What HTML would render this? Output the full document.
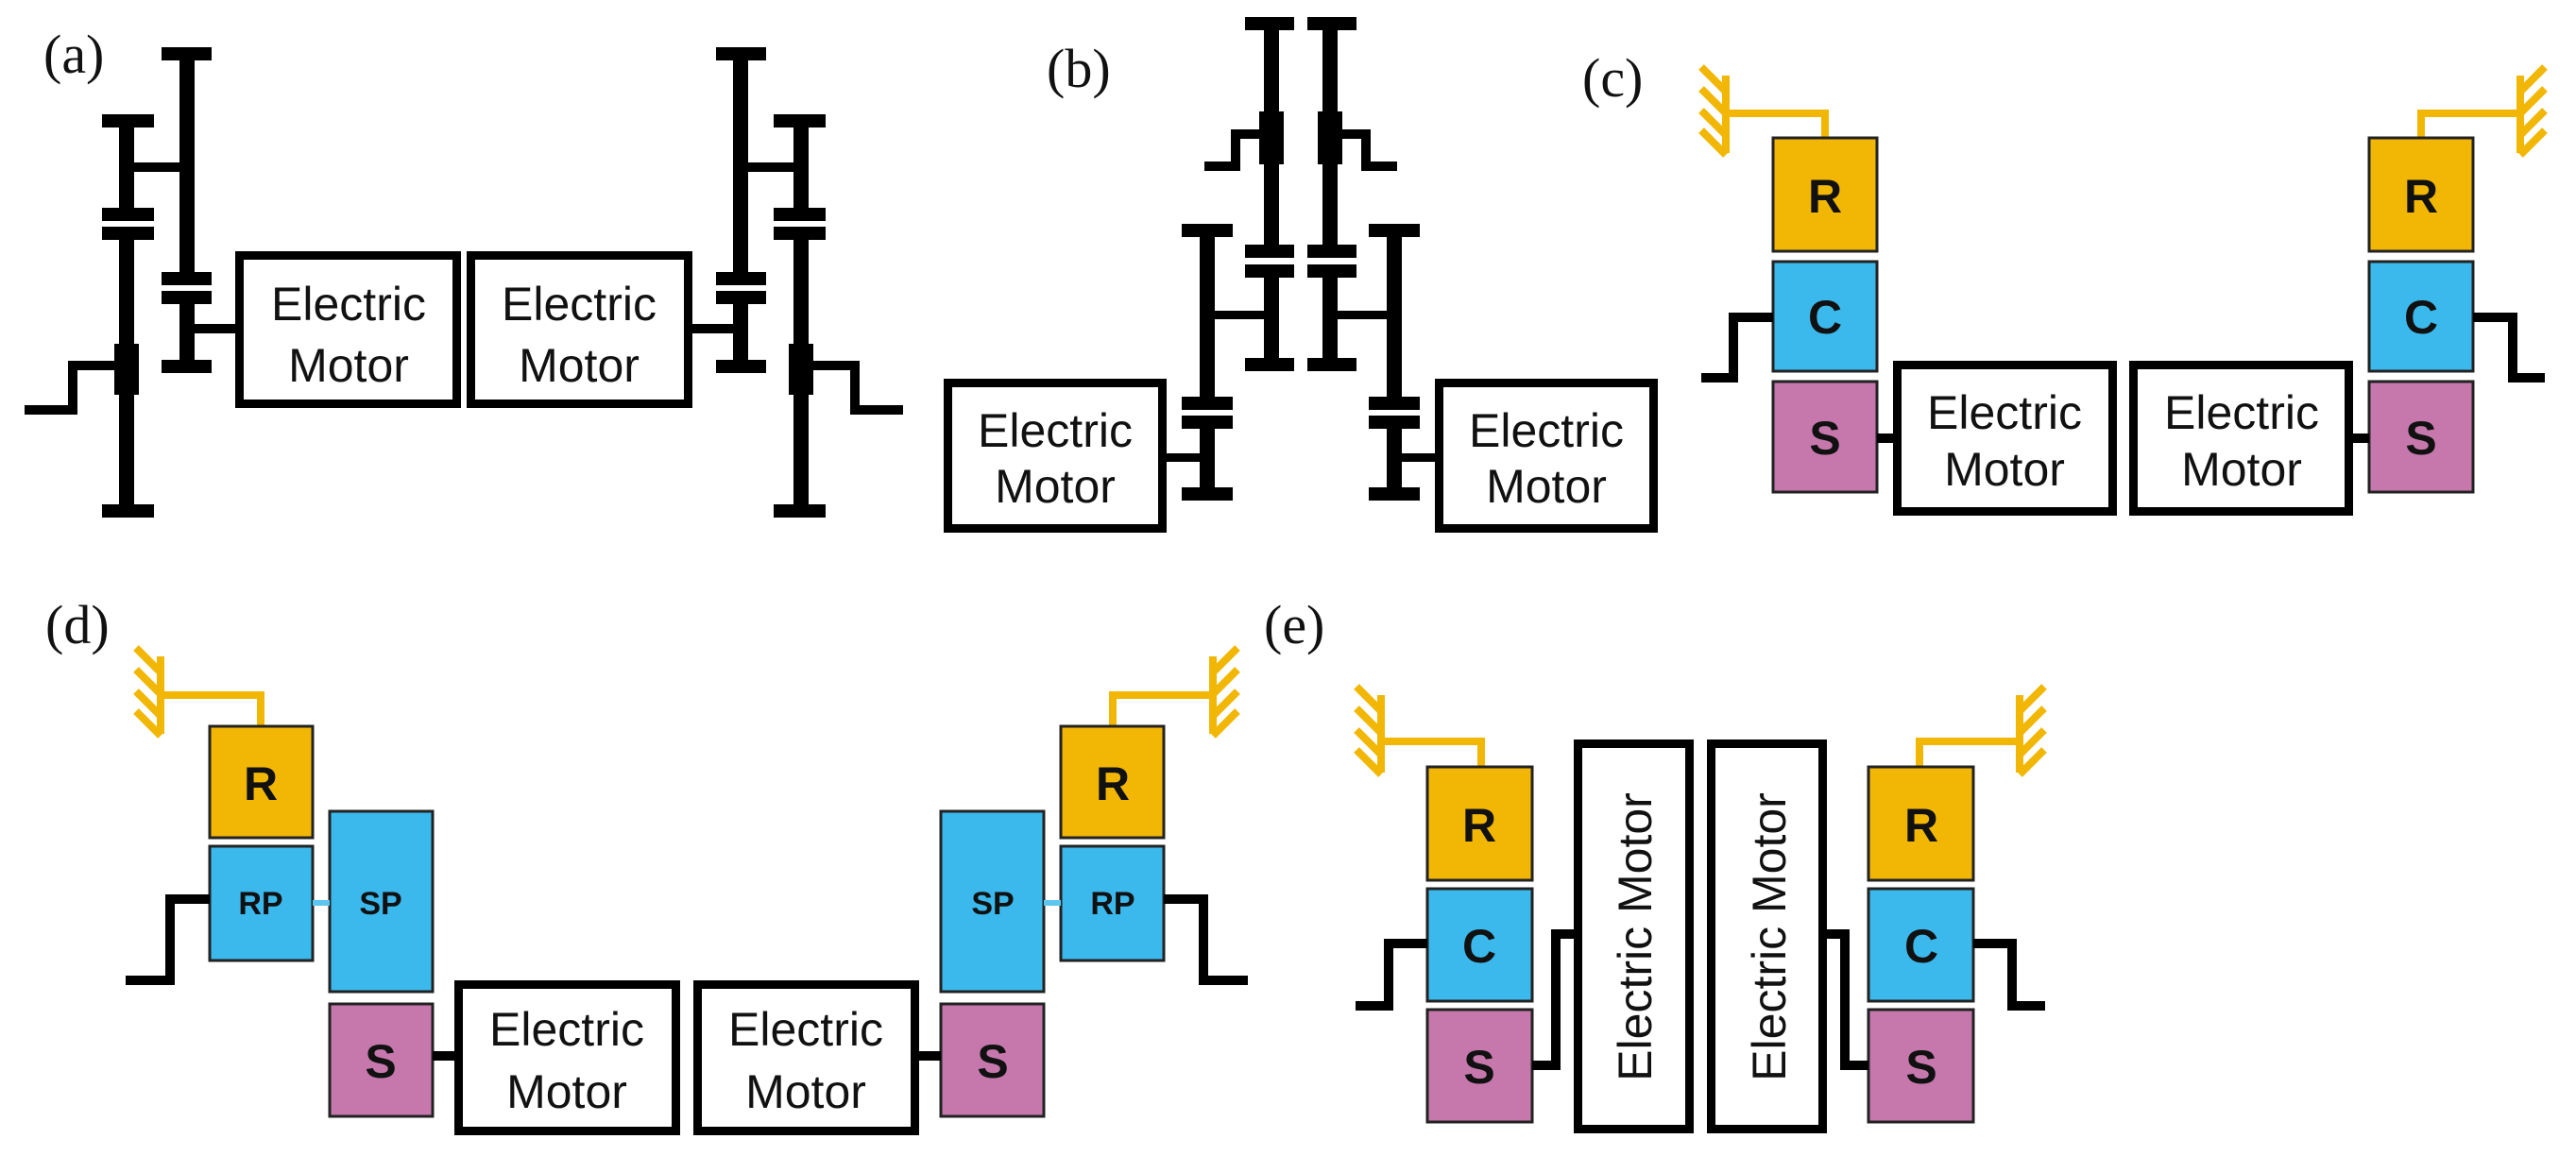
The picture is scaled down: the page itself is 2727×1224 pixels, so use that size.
<!DOCTYPE html>
<html><head><meta charset="utf-8"><style>
html,body{margin:0;padding:0;background:#fff;}
svg{display:block;}
.lbl{font-family:"Liberation Serif",serif;font-size:58px;fill:#111;}
.mt{font-family:"Liberation Sans",sans-serif;font-size:50px;fill:#111;text-anchor:middle;}
.bl{font-family:"Liberation Sans",sans-serif;font-weight:bold;font-size:50px;fill:#111;text-anchor:middle;dominant-baseline:central;}
.sm{font-family:"Liberation Sans",sans-serif;font-weight:bold;font-size:34px;fill:#111;text-anchor:middle;dominant-baseline:central;}
.box{fill:#fff;stroke:#000;stroke-width:9;}
.k{stroke:#000;stroke-width:10;fill:none;}
.y{stroke:#F2B705;stroke-width:8;fill:none;}
.R{fill:#F2B705;stroke:#222;stroke-width:3;}
.C{fill:#3BB9EC;stroke:#222;stroke-width:3;}
.S{fill:#C678AD;stroke:#222;stroke-width:3;}
</style></head><body>
<svg width="2727" height="1224" viewBox="0 0 2727 1224" xmlns="http://www.w3.org/2000/svg">
<defs>
<g id="aL">
  <rect x="108" y="121" width="55" height="14"/>
  <rect x="108" y="220" width="55" height="14"/>
  <rect x="108" y="240" width="55" height="14"/>
  <rect x="108" y="534" width="55" height="14"/>
  <rect x="126" y="121" width="16" height="110"/>
  <rect x="126" y="240" width="16" height="305"/>
  <rect x="121" y="364" width="26" height="54"/>
  <rect x="134" y="172" width="64" height="10"/>
  <rect x="171" y="50" width="53" height="14"/>
  <rect x="171" y="288" width="53" height="14"/>
  <rect x="171" y="308" width="53" height="14"/>
  <rect x="171" y="381" width="53" height="14"/>
  <rect x="190" y="50" width="16" height="250"/>
  <rect x="190" y="308" width="16" height="85"/>
  <rect x="198" y="343" width="52" height="10"/>
  <polyline class="k" points="26,434 77,434 77,387 122,387"/>
  <rect class="box" x="253.5" y="270.5" width="230" height="157"/>
</g>
<g id="bL">
  <rect x="1318" y="18" width="52" height="14"/>
  <rect x="1318" y="259" width="52" height="14"/>
  <rect x="1318" y="280" width="52" height="14"/>
  <rect x="1318" y="379" width="52" height="14"/>
  <rect x="1338" y="18" width="16" height="252"/>
  <rect x="1338" y="280" width="16" height="110"/>
  <rect x="1333" y="118" width="26" height="56"/>
  <polyline class="k" points="1275,176 1308,176 1308,142 1336,142"/>
  <rect x="1251" y="237" width="54" height="14"/>
  <rect x="1251" y="420" width="54" height="14"/>
  <rect x="1251" y="440" width="54" height="14"/>
  <rect x="1251" y="516" width="54" height="14"/>
  <rect x="1270" y="237" width="16" height="194"/>
  <rect x="1270" y="440" width="16" height="88"/>
  <rect x="1278" y="329" width="68" height="9"/>
  <rect x="1233" y="480" width="45" height="9"/>
  <rect class="box" x="1003.5" y="405.5" width="227" height="154"/>
</g>
<g id="gnd">
  <line class="y" x1="0" y1="-2" x2="0" y2="80"/>
  <line class="y" x1="0" y1="15" x2="-26" y2="-11"/>
  <line class="y" x1="0" y1="38" x2="-26" y2="12"/>
  <line class="y" x1="0" y1="61" x2="-26" y2="35"/>
  <line class="y" x1="0" y1="82" x2="-26" y2="56"/>
</g>
<g id="cL">
  <use href="#gnd" x="1827" y="82"/>
  <polyline class="y" points="1827,120 1932,120 1932,148"/>
  <rect class="R" x="1877" y="146" width="110" height="120"/>
  <rect class="C" x="1877" y="277" width="110" height="116"/>
  <rect class="S" x="1877" y="404" width="110" height="117"/>
  <polyline class="k" points="1801,400 1835,400 1835,336 1877,336"/>
  <line class="k" x1="1987" y1="464" x2="2006" y2="464"/>
  <rect class="box" x="2008.5" y="386.5" width="228" height="155"/>
</g>
<g id="dL">
  <use href="#gnd" x="170" y="697"/>
  <polyline class="y" points="170,736 276,736 276,771"/>
  <rect class="R" x="222" y="769" width="109" height="118"/>
  <rect class="C" x="222" y="896" width="109" height="121"/>
  <rect class="C" x="349" y="859" width="109" height="191"/>
  <rect class="S" x="349" y="1063" width="109" height="119"/>
  <polyline class="k" points="133,1038 180,1038 180,952 222,952"/>
  <line x1="331" y1="956" x2="349" y2="956" stroke="#5cc6ef" stroke-width="6"/>
  <line class="k" x1="458" y1="1118" x2="483" y2="1118"/>
  <rect class="box" x="485.5" y="1042.5" width="230" height="155"/>
</g>
<g id="eL">
  <use href="#gnd" x="1462" y="738"/>
  <polyline class="y" points="1462,785 1568,785 1568,814"/>
  <rect class="R" x="1511" y="812" width="111" height="120"/>
  <rect class="C" x="1511" y="941" width="111" height="119"/>
  <rect class="S" x="1511" y="1069" width="111" height="119"/>
  <polyline class="k" points="1435,1065 1470,1065 1470,999 1511,999"/>
  <polyline class="k" points="1622,1128 1647,1128 1647,989 1668,989"/>
  <rect class="box" x="1670.5" y="787.5" width="118" height="408"/>
</g>
</defs>

<text class="lbl" x="46" y="77">(a)</text>
<text class="lbl" x="1108" y="92">(b)</text>
<text class="lbl" x="1675" y="102">(c)</text>
<text class="lbl" x="48" y="681">(d)</text>
<text class="lbl" x="1338" y="681">(e)</text>

<use href="#aL"/>
<use href="#aL" transform="translate(982,0) scale(-1,1)"/>
<use href="#bL"/>
<use href="#bL" transform="translate(2754,0) scale(-1,1)"/>
<use href="#cL"/>
<use href="#cL" transform="translate(4495,0) scale(-1,1)"/>
<use href="#dL"/>
<use href="#dL" transform="translate(1454,0) scale(-1,1)"/>
<use href="#eL"/>
<use href="#eL" transform="translate(3600,0) scale(-1,1)"/>

<!-- motor texts -->
<text class="mt" x="369" y="339">Electric</text><text class="mt" x="369" y="404">Motor</text>
<text class="mt" x="613" y="339">Electric</text><text class="mt" x="613" y="404">Motor</text>
<text class="mt" x="1117" y="473">Electric</text><text class="mt" x="1117" y="532">Motor</text>
<text class="mt" x="1637" y="473">Electric</text><text class="mt" x="1637" y="532">Motor</text>
<text class="mt" x="2122" y="454">Electric</text><text class="mt" x="2122" y="514">Motor</text>
<text class="mt" x="2373" y="454">Electric</text><text class="mt" x="2373" y="514">Motor</text>
<text class="mt" x="600" y="1107">Electric</text><text class="mt" x="600" y="1173">Motor</text>
<text class="mt" x="853" y="1107">Electric</text><text class="mt" x="853" y="1173">Motor</text>
<text class="mt" transform="translate(1748,992) rotate(-90)" x="0" y="0">Electric Motor</text>
<text class="mt" transform="translate(1890,992) rotate(-90)" x="0" y="0">Electric Motor</text>

<!-- letters -->
<text class="bl" x="1932" y="208">R</text><text class="bl" x="1932" y="336">C</text><text class="bl" x="1932" y="464">S</text>
<text class="bl" x="2563" y="208">R</text><text class="bl" x="2563" y="336">C</text><text class="bl" x="2563" y="464">S</text>
<text class="bl" x="276" y="830">R</text><text class="sm" x="276" y="957">RP</text><text class="sm" x="403" y="957">SP</text><text class="bl" x="403" y="1124">S</text>
<text class="bl" x="1178" y="830">R</text><text class="sm" x="1178" y="957">RP</text><text class="sm" x="1051" y="957">SP</text><text class="bl" x="1051" y="1124">S</text>
<text class="bl" x="1566" y="874">R</text><text class="bl" x="1566" y="1002">C</text><text class="bl" x="1566" y="1130">S</text>
<text class="bl" x="2034" y="874">R</text><text class="bl" x="2034" y="1002">C</text><text class="bl" x="2034" y="1130">S</text>
</svg>
</body></html>
